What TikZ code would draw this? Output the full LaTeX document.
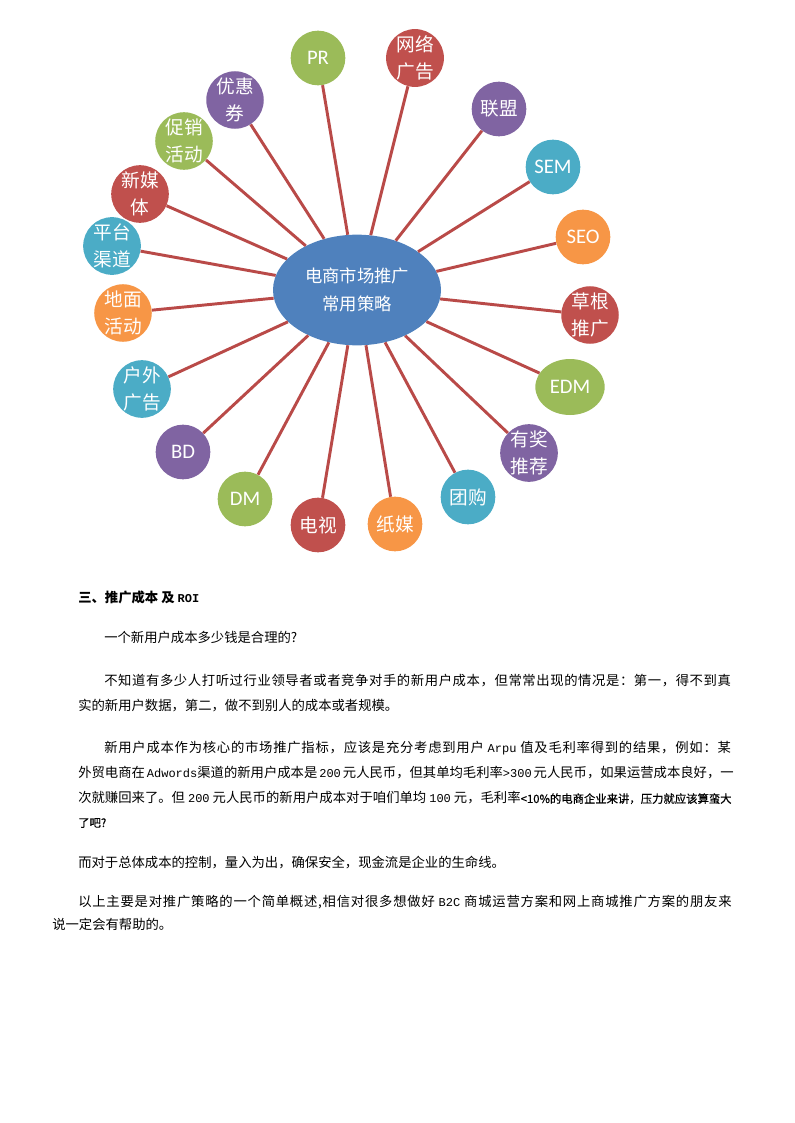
\documentclass[tikz,border=0pt]{standalone}
\usepackage{fontspec}
\setmainfont{Noto Sans CJK SC}
\newfontfamily\cjk{Noto Sans CJK SC}
\newfontfamily\yh[FakeBold=0.6]{Noto Sans CJK SC}
\newfontfamily\lat{Carlito}
\newfontfamily\mono{Liberation Mono}
% stretchable glue between CJK characters (for justified lines)
\XeTeXinterchartokenstate=1
\chardef\cjkcls=7
\newcount\cc
\cc="3000 \loop \XeTeXcharclass\cc=\cjkcls \advance\cc 1 \ifnum\cc<"3040 \repeat
\cc="4E00 \loop \XeTeXcharclass\cc=\cjkcls \advance\cc 1 \ifnum\cc<"A000 \repeat
\cc="FF00 \loop \XeTeXcharclass\cc=\cjkcls \advance\cc 1 \ifnum\cc<"FF60 \repeat
\XeTeXinterchartoks\cjkcls\cjkcls={\hskip 0pt plus 1pt\relax}
\XeTeXinterchartoks 0 \cjkcls={\hskip 0pt plus 1pt\relax}
\XeTeXinterchartoks\cjkcls 0 ={\hskip 0pt plus 1pt\relax}
\definecolor{cgreen}{HTML}{9BBB59}
\definecolor{cred}{HTML}{C0504D}
\definecolor{cpurple}{HTML}{8064A2}
\definecolor{cteal}{HTML}{4BACC6}
\definecolor{corange}{HTML}{F79646}
\definecolor{cblue}{HTML}{4F81BD}
\definecolor{lred}{HTML}{B94A48}
\newcommand{\mn}[1]{{\mono\fontsize{9}{12}\selectfont #1}}
\newcommand{\yht}[1]{{\yh\fontsize{8.5}{12}\selectfont #1}}
\newcommand{\jline}[2]{\makebox[#1][s]{#2}}
\usetikzlibrary{shapes.geometric}
\tikzset{
  bub/.style={circle, minimum size=41pt, inner sep=0pt, text=white, align=center,
    font=\cjk\fontsize{14}{20}\selectfont},
  latbub/.style={bub, font=\lat\fontsize{15.5}{20}\selectfont},
  hub/.style={ellipse, minimum width=126pt, minimum height=83pt, inner sep=0pt, fill=cblue,
    text=white, align=center, font=\cjk\fontsize{13}{21}\selectfont},
  conn/.style={draw=lred, line width=2.2pt},
  body/.style={anchor=west, inner sep=0pt, font=\cjk\fontsize{10}{14}\selectfont, text=black}
}
\begin{document}
\begin{tikzpicture}[x=0.75pt,y=-0.75pt]
\useasboundingbox (0,0) rectangle (794,1123);
% hub
\node[hub] (hub) at (357,290) {电商市场推广\\常用策略};
% bubbles
\node[latbub, fill=cgreen] (pr) at (318,58) {PR};
\node[bub, fill=cred] (wl) at (415,58) {网络\\广告};
\node[bub, fill=cpurple] (lm) at (499,109) {联盟};
\node[latbub, fill=cteal] (sem) at (553,167) {SEM};
\node[latbub, fill=corange] (seo) at (583,237) {SEO};
\node[bub, fill=cred] (cg) at (590,315) {草根\\推广};
\node[latbub, fill=cgreen, ellipse, minimum width=52pt, minimum height=42pt] (edm) at (570,387) {EDM};
\node[bub, fill=cpurple] (yj) at (529,453) {有奖\\推荐};
\node[bub, fill=cteal] (tg) at (468,497) {团购};
\node[bub, fill=corange] (zm) at (395,524) {纸媒};
\node[bub, fill=cred] (ds) at (318,525) {电视};
\node[latbub, fill=cgreen] (dm) at (245,499) {DM};
\node[latbub, fill=cpurple] (bd) at (183,452) {BD};
\node[bub, fill=cteal] (hw) at (142,389) {户外\\广告};
\node[bub, fill=corange] (dh) at (123,313) {地面\\活动};
\node[bub, fill=cteal] (pt) at (112,246) {平台\\渠道};
\node[bub, fill=cred] (xm) at (140,194) {新媒\\体};
\node[bub, fill=cgreen] (cx) at (184,141) {促销\\活动};
\node[bub, fill=cpurple] (yh) at (235,100) {优惠\\券};
% connectors
\foreach \n in {pr,wl,lm,sem,seo,cg,edm,yj,tg,zm,ds,dm,bd,hw,dh,pt,xm,cx,yh}
  \draw[conn] (\n) -- (hub);
% text
\node[body, font=\cjk\bfseries\fontsize{10}{14}\selectfont] (t1) at (78,597) {三、推广成本 及 \mn{\bfseries ROI}};
\node[body] (t2) at (104,637) {一个新用户成本多少钱是合理的?};
\node[body] (t3) at (104,681) {\jline{470pt}{不知道有多少人打听过行业领导者或者竞争对手的新用户成本，但常常出现的情况是：第一，得不到真}};
\node[body] (t4) at (78,706) {实的新用户数据，第二，做不到别人的成本或者规模。};
\node[body] (t5) at (104,748) {\jline{470pt}{新用户成本作为核心的市场推广指标，应该是充分考虑到用户 \mn{Arpu} 值及毛利率得到的结果，例如：某}};
\node[body] (t6) at (78,773) {\jline{490pt}{外贸电商在 \mn{Adwords}渠道的新用户成本是 \mn{200} 元人民币，但其单均毛利率\mn{>300} 元人民币，如果运营成本良好，一}};
\node[body] (t7) at (78,798) {\jline{490pt}{次就赚回来了。但 \mn{200} 元人民币的新用户成本对于咱们单均 \mn{100} 元，毛利率\yht{<10\%的电商企业来讲，压力就应该算蛮大}}};
\node[body] (t8) at (78,823) {\yht{了吧?}};
\node[body] (t9) at (78,863) {而对于总体成本的控制，量入为出，确保安全，现金流是企业的生命线。};
\node[body] (t10) at (78,902) {\jline{490pt}{以上主要是对推广策略的一个简单概述,相信对很多想做好 \mn{B2C} 商城运营方案和网上商城推广方案的朋友来}};
\node[body] (t11) at (52,924) {说一定会有帮助的。};
\end{tikzpicture}
\end{document}
